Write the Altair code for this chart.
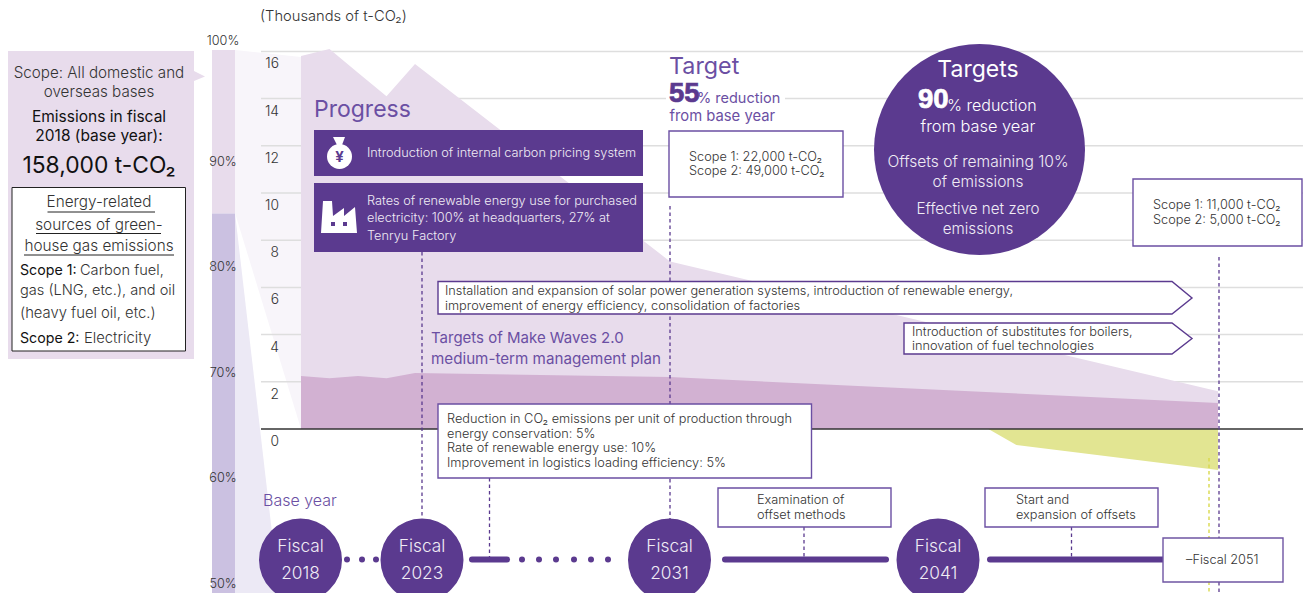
import math
import altair as alt

# ---- data (thousands of t-CO2, fiscal years)
total_years = [2018, 2019, 2020, 2021, 2022, 2031, 2051]
total_values = [15.8, 16.1, 15.1, 14.1, 15.47, 7.1, 1.6]
scope1_years = [2018, 2019, 2020, 2021, 2022, 2031, 2051]
scope1_values = [2.25, 2.15, 2.25, 2.15, 2.37, 2.2, 1.1]
offset_years = [2042.8, 2043.8, 2051]
offset_values = [0, -0.68, -1.74]
y_ticks = [2, 4, 6, 8, 10, 12, 14, 16]
share_labels = [90, 80, 70, 60, 50]
share_scope2 = [84.5, 100]
share_scope1 = [48, 84.5]

# ---- palette / fonts
P = "#5b3a8f"
P2 = "#6b4fa3"
PB = "#6f55a3"
TXT = "#333333"
BLK = "#111111"
PANEL = "#e8dcec"
DARK = "#d2b1d2"
YEL = "#e2e592"
LILAC = "#cbc1e1"
FAINT = "#f8f5fa"
FAINT2 = "#ece9f5"
GRID = "#dedede"
WHT = "#f0ecf5"
FONT = "Inter"
HEAVY = "Liberation Sans"
W, H = 1295, 585
S = 12.75  # body text size

xs = alt.Scale(domain=[2018, 2022, 2023, 2031, 2041, 2051],
               range=[293, 407, 414, 662, 930, 1210])
ys = alt.Scale(domain=[-2, 16], range=[468.2, 43.4])
pct = alt.Scale(domain=[50, 100], range=[569.5, 42])


def T(s, x, y, size=S, color=TXT, align="left", weight=300, font=FONT, halo=None):
    y = y + (2 if size >= 20 else 1)
    kw = dict(stroke=color, strokeWidth=halo) if halo else {}
    return alt.Chart().mark_text(text=s, align=align, baseline="middle", fontSize=size,
                                 color=color, font=font, fontWeight=weight, **kw).encode(
        x=alt.value(x - 8), y=alt.value(y - 8))


def R(x1, y1, x2, y2, fill, stroke=None, sw=1.4):
    kw = dict(fill=fill, opacity=1)
    if stroke:
        kw.update(stroke=stroke, strokeWidth=sw)
    return alt.Chart().mark_rect(**kw).encode(
        x=alt.value(x1 - 8), x2=alt.value(x2 - 8), y=alt.value(y1 - 8), y2=alt.value(y2 - 8))


def POLY(d, fill, stroke=None, sw=1.4):
    kw = dict(shape=d, size=4, filled=True, fill=fill, opacity=1)
    if stroke:
        kw.update(stroke=stroke, strokeWidth=sw)
    else:
        kw.update(strokeWidth=0)
    return alt.Chart().mark_point(**kw).encode(x=alt.value(-8), y=alt.value(-8))


def L(x1, y1, x2, y2, color=P, sw=1.3, dash=None, cap=None):
    kw = dict(color=color, strokeWidth=sw)
    if dash:
        kw["strokeDash"] = dash
    if cap:
        kw["strokeCap"] = cap
    return alt.Chart().mark_rule(**kw).encode(
        x=alt.value(x1 - 8), x2=alt.value(x2 - 8), y=alt.value(y1 - 8), y2=alt.value(y2 - 8))


def C(cx, cy, d, fill=P):
    return alt.Chart().mark_point(shape="circle", size=d * d, filled=True,
                                  fill=fill, opacity=1, strokeWidth=0).encode(
        x=alt.value(cx - 8), y=alt.value(cy - 8))


def series(years, values):
    return alt.Data(values=[{"year": a, "v": b} for a, b in zip(years, values)])


def area(years, values, color):
    return alt.Chart(series(years, values)).mark_area(color=color, opacity=1).encode(
        x=alt.X("year:Q", scale=xs, axis=None),
        y=alt.Y("v:Q", scale=ys, axis=None, stack=None))


layers = []
# funnel behind the chart
layers += [
    POLY("M235 50 L301 57 L301 429 L235 213 Z", FAINT),
    POLY("M235 213 L279 593 L235 593 Z", FAINT2),
]
# left share bar
share_df = alt.Data(values=[
    {"a": share_scope2[1], "b": share_scope2[0], "k": "s2"},
    {"a": share_scope1[1], "b": share_scope1[0], "k": "s1"}])
layers.append(alt.Chart(share_df).mark_rect(opacity=1).encode(
    x=alt.value(212 - 8), x2=alt.value(235 - 8),
    y=alt.Y("a:Q", scale=pct, axis=None), y2="b:Q",
    fill=alt.Fill("k:N", scale=alt.Scale(domain=["s2", "s1"], range=[PANEL, LILAC]), legend=None)))
layers.append(alt.Chart(alt.Data(values=[{"p": p, "t": f"{p}%"} for p in share_labels])).mark_text(
    align="center", baseline="middle", fontSize=12.7, font=FONT, fontWeight=300, color=TXT, dy=6).encode(
    x=alt.value(223 - 8), y=alt.Y("p:Q", scale=pct, axis=None), text="t:N"))
layers.append(T("100%", 223, 39.5, 12.7, align="center"))

# grid
layers.append(alt.Chart(alt.Data(values=[{"v": v} for v in y_ticks])).mark_rule(color=GRID, strokeWidth=1.5).encode(
    x=alt.value(261 - 8), x2=alt.value(1305 - 8), y=alt.Y("v:Q", scale=ys, axis=None)))

# emission areas
layers.append(area(total_years, total_values, PANEL))
layers.append(area(scope1_years, scope1_values, DARK))
layers.append(area(offset_years, offset_values, YEL))
# zero line and tick labels
layers.append(alt.Chart(alt.Data(values=[{"v": 0}])).mark_rule(color="#333333", strokeWidth=1.5).encode(
    x=alt.value(261 - 8), x2=alt.value(1305 - 8), y=alt.Y("v:Q", scale=ys, axis=None)))
layers.append(alt.Chart(alt.Data(values=[{"v": v, "t": str(v)} for v in [0] + y_ticks])).mark_text(
    align="right", baseline="middle", fontSize=13.8, font=FONT, fontWeight=300, color=TXT, dy=13).encode(
    x=alt.value(279 - 8), y=alt.Y("v:Q", scale=ys, axis=None), text="t:N"))
layers.append(T("(Thousands of t-CO₂)", 260, 16, 14.7))

# dashed leaders
dash = [3.5, 3]
layers += [
    L(422, 252, 422, 518, dash=dash),
    L(670, 206, 670, 520, dash=dash),
    L(489.5, 478, 489.5, 557, dash=dash),
    L(804, 527, 804, 557, dash=dash),
    L(1071.5, 527, 1071.5, 557, dash=dash),
    L(1209, 458, 1209, 593, color="#d9d94c", sw=1.4, dash=dash),
    L(1219, 257, 1219, 593, dash=dash),
]

# left panel
layers += [
    R(0, 51, 194, 359, PANEL),
    POLY("M194 71 L205 76.5 L194 81 Z", PANEL),
    R(12, 187.5, 185.5, 351, "#ffffff", "#222222", 1),
    T("Scope: All domestic and", 99, 72, 15.2, align="center"),
    T("overseas bases", 99, 91, 15.2, align="center"),
    T("Emissions in fiscal", 99, 116, 15.5, BLK, "center", 400),
    T("2018 (base year):", 99, 135, 15.5, BLK, "center", 400),
    T("158,000 t-CO₂", 99, 164, 22.8, BLK, "center", 400),
    T("Energy-related", 99, 201, 15.3, align="center"),
    L(47.5, 212, 155, 212, "#222222", 1),
    T("sources of green-", 99, 224, 15.3, align="center"),
    L(36, 233.5, 161, 233.5, "#222222", 1),
    T("house gas emissions", 99, 245, 15.3, align="center"),
    L(24, 255, 174, 255, "#222222", 1),
    T("Scope 1:", 20, 270, 14.2, BLK, weight=400),
    T("Carbon fuel,", 80, 270, 14.6),
    T("gas (LNG, etc.), and oil", 20, 290, 14.6),
    T("(heavy fuel oil, etc.)", 20, 313, 14.8),
    T("Scope 2:", 20, 337.5, 14.2, BLK, weight=400),
    T("Electricity", 84, 337.5, 14.8),
]

# progress
layers += [
    T("Progress", 314, 108, 23, P2, weight=400),
    R(314, 130, 643, 176, P),
    R(314, 183, 643, 252, P),
    POLY("M333 137 L345 137 L342 145 L337 145 Z", "#ffffff"),
    C(339.5, 156.5, 25, "#ffffff"),
    T("¥", 339.5, 156, 15, P, "center", 700),
    POLY("M323 201 L332 201 L333 216 L344 208 L344 216 L355 207 L357 233 L321 233 Z", "#ffffff"),
    R(331, 222, 335, 226, P),
    R(343, 222, 347, 226, P),
    T("Introduction of internal carbon pricing system", 367, 152, S, WHT),
    T("Rates of renewable energy use for purchased", 367, 200, S, WHT),
    T("electricity: 100% at headquarters, 27% at", 367, 217, S, WHT),
    T("Tenryu Factory", 367, 235, S, WHT),
    T("Targets of Make Waves 2.0", 431, 336.5, 15, P2, weight=400),
    T("medium-term management plan", 431, 357.5, 15.2, P2, weight=400),
    T("Base year", 263, 499.5, 16, P2),
]

# target 55 %
layers += [
    R(666, 54, 785, 128, "#ffffff"),
    T("Target", 669, 65, 23.3, P2, weight=400),
    T("55", 669, 92, 27.5, P, weight=700, font=HEAVY, halo=0.7),
    T("% reduction", 697, 98, 14.5, P2, weight=400),
    T("from base year", 669.5, 116, 14.8, P2, weight=400),
    R(669, 131, 843, 197, "#ffffff", P2),
    T("Scope 1: 22,000 t-CO₂", 689, 156, S),
    T("Scope 2: 49,000 t-CO₂", 689, 170, S),
]

# target 90 %
layers += [
    C(979.5, 149.5, 211),
    T("Targets", 978, 68, 23, "#ffffff", "center", 400),
    T("90", 918, 98, 27.5, "#ffffff", weight=700, font=HEAVY, halo=0.7),
    T("% reduction", 947, 105, 16, "#ffffff"),
    T("from base year", 978, 125.5, 16.4, "#ffffff", "center"),
    T("Offsets of remaining 10%", 978, 160.5, 15.6, WHT, "center"),
    T("of emissions", 978, 181, 15.5, WHT, "center"),
    T("Effective net zero", 978, 208, 15.2, WHT, "center"),
    T("emissions", 978, 228, 15.2, WHT, "center"),
    R(1133, 179, 1302, 246, "#ffffff", P2),
    T("Scope 1: 11,000 t-CO₂", 1153, 204, S),
    T("Scope 2: 5,000 t-CO₂", 1153, 219, S),
]

# arrows
layers += [
    POLY("M438 281.5 L1172 281.5 L1192 298 L1172 314 L438 314 Z", "#ffffff", P),
    T("Installation and expansion of solar power generation systems, introduction of renewable energy,", 445, 290, S),
    T("improvement of energy efficiency, consolidation of factories", 445, 305, S),
    POLY("M904 323 L1172 323 L1192 338.5 L1172 354 L904 354 Z", "#ffffff", P),
    T("Introduction of substitutes for boilers,", 912, 331, S),
    T("innovation of fuel technologies", 912, 345, S),
]

# reduction box
layers += [
    R(438, 404, 811.5, 478, "#ffffff", P2),
    T("Reduction in CO₂ emissions per unit of production through", 447, 418, S),
    T("energy conservation: 5%", 447, 433, S),
    T("Rate of renewable energy use: 10%", 447, 447, S),
    T("Improvement in logistics loading efficiency: 5%", 447, 461.5, S),
]

# timeline
for x1, x2 in [(472, 507), (725, 886), (990, 1165)]:
    layers.append(L(x1, 559.5, x2, 559.5, P, 6, cap="round"))
for cx in [347, 362, 376, 522, 539, 556, 574, 591, 608]:
    layers.append(C(cx, 559.5, 6))
for cx, yr in [(300.5, "2018"), (422, "2023"), (669.5, "2031"), (938, "2041")]:
    layers += [C(cx, 560, 83),
               T("Fiscal", cx, 546, 17.3, WHT, "center"),
               T(yr, cx, 572.5, 17.3, WHT, "center")]
layers += [
    R(718, 488, 891, 527, "#ffffff", P2),
    T("Examination of", 757, 498.5, S),
    T("offset methods", 757, 513.5, S),
    R(985, 488, 1158, 527, "#ffffff", P2),
    T("Start and", 1016, 498.5, S),
    T("expansion of offsets", 1016, 513.5, S),
    R(1163, 538, 1283, 582, "#ffffff", PB),
    T("–Fiscal 2051", 1186, 558.5, S),
]

chart = alt.layer(*layers).resolve_scale(x="independent", y="independent").properties(
    width=W, height=H, padding=0, autosize=alt.AutoSizeParams(type="none"),
    background="#ffffff").configure_view(stroke=None)

chart.save("out.html", embed_options={"renderer": "svg", "actions": False})
